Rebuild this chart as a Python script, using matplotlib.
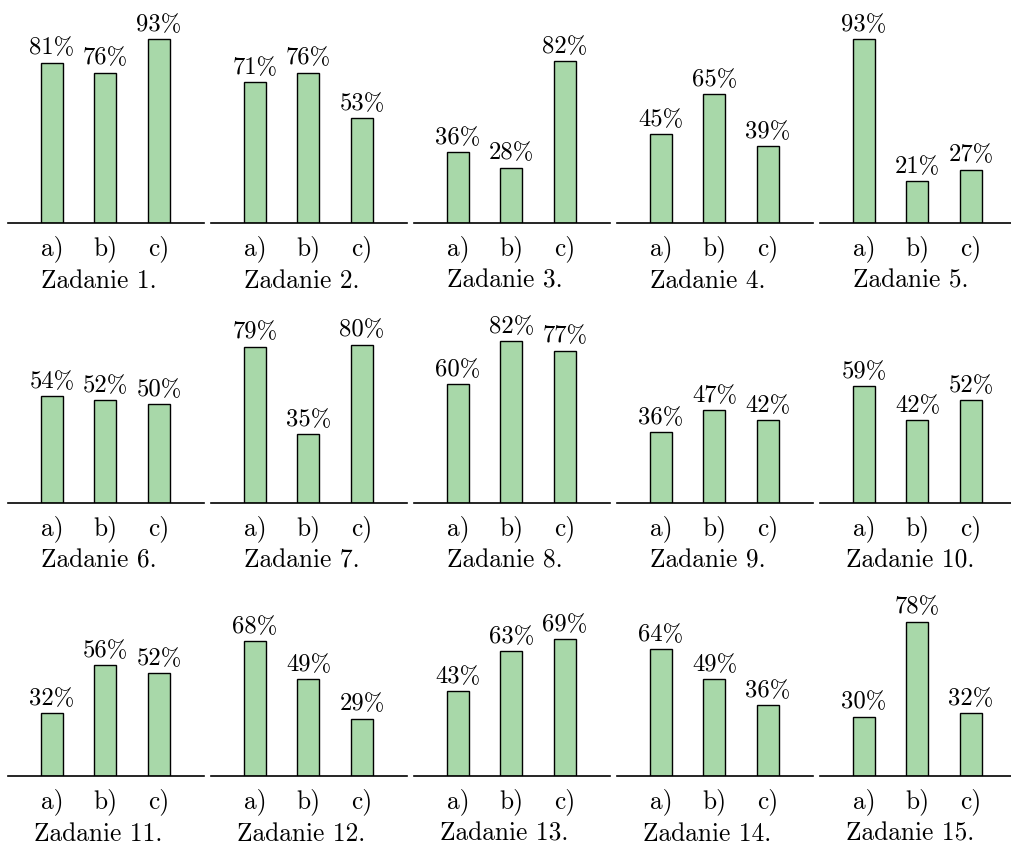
import matplotlib
matplotlib.use("Agg")
import matplotlib.pyplot as plt

plt.rcParams['mathtext.fontset'] = 'cm'
plt.rcParams['font.family'] = ['cmr10', 'DejaVu Serif']
plt.rcParams['axes.unicode_minus'] = False

categories = ["a)", "b)", "c)"]
titles = [f"Zadanie {i}." for i in range(1, 16)]
values = [
    [81, 76, 93],
    [71, 76, 53],
    [36, 28, 82],
    [45, 65, 39],
    [93, 21, 27],
    [54, 52, 50],
    [79, 35, 80],
    [60, 82, 77],
    [36, 47, 42],
    [59, 42, 52],
    [32, 56, 52],
    [68, 49, 29],
    [43, 63, 69],
    [64, 49, 36],
    [30, 78, 32],
]

W, H = 1011, 845
fig = plt.figure(figsize=(W / 100, H / 100), dpi=100)

baselines = [224, 504, 777]
ax_h = 198
ax_w = 196
FS = 18.3
FS_VAL = 17.8
PX = 0.72  # points per pixel at 100 dpi

for k, vals in enumerate(values):
    r, c = divmod(k, 5)
    left = 8 + 203 * c
    bottom = H - baselines[r]
    ax = fig.add_axes([left / W, bottom / H, ax_w / W, ax_h / H])
    x = [1, 2, 3]
    ax.bar(x, vals, width=0.41, color='#a8d8a9', edgecolor='black', linewidth=1.0, zorder=2)
    for xi, v, cat in zip(x, vals, categories):
        ax.annotate(f"{v}%", (xi, v), xytext=(0, 9 * PX), textcoords='offset points',
                    ha='center', va='baseline', fontsize=FS_VAL, annotation_clip=False)
        ax.annotate(cat, (xi, 0), xytext=(0, -31 * PX), textcoords='offset points',
                    ha='center', va='baseline', fontsize=FS, annotation_clip=False)
    ax.annotate(titles[k], (1.87, 0), xytext=(0, -64 * PX), textcoords='offset points',
                ha='center', va='baseline', fontsize=FS, annotation_clip=False)
    ax.set_xlim(0.18, 3.84)
    ax.set_ylim(0, 100)
    for s in ['top', 'left', 'right']:
        ax.spines[s].set_visible(False)
    ax.spines['bottom'].set_linewidth(1.2)
    ax.spines['bottom'].set_zorder(3)
    ax.set_yticks([])
    ax.set_xticks([])
    ax.patch.set_alpha(0)

fig.savefig("out.png", dpi=100)
